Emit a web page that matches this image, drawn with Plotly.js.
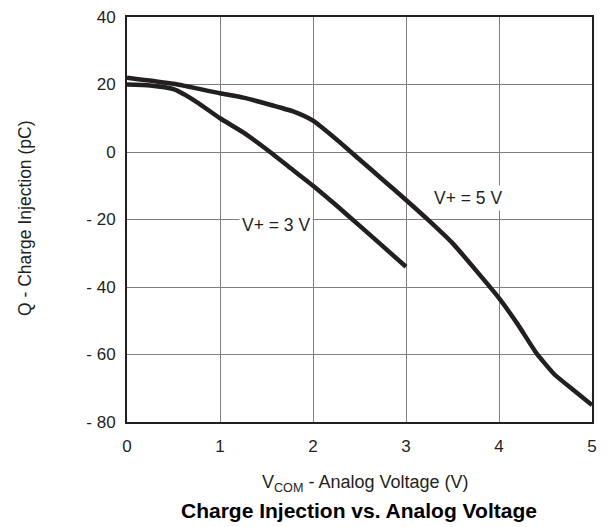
<!DOCTYPE html>
<html>
<head>
<meta charset="utf-8">
<script src="https://cdn.plot.ly/plotly-3.0.1.min.js"></script>
<style>html,body{margin:0;padding:0;background:#fff;}#chart{width:611px;height:527px;}</style>
</head>
<body>
<div id="chart"></div>
<script>
const v5_x = [0, 0.5, 1.0, 1.25, 1.5, 1.8, 2.0, 2.25, 2.5, 2.75, 3.0, 3.25, 3.5, 3.75, 4.0, 4.2, 4.4, 4.6, 4.8, 5.0];
const v5_y = [22, 20.2, 17.4, 16.1, 14.3, 11.9, 9.3, 3.8, -2.2, -8.2, -14.2, -20.4, -27, -35, -43.3, -51, -59.5, -66, -70.5, -75];
const v3_x = [0, 0.25, 0.5, 0.75, 1.0, 1.25, 1.5, 1.75, 2.0, 2.25, 2.5, 2.75, 3.0];
const v3_y = [20, 19.7, 18.6, 14.8, 10, 5.8, 0.8, -4.6, -10, -15.8, -21.8, -27.9, -34];
const xTicks = [0, 1, 2, 3, 4, 5];
const yTicks = [40, 20, 0, -20, -40, -60, -80];
const yTickText = ["40", "20", "0", "- 20", "- 40", "- 60", "- 80"];

const font = "Liberation Sans, Arial, Helvetica, sans-serif";
const ink = "#231f20";
const lineStyle = {color: ink, width: 4.5, shape: "spline", smoothing: 0.5};

const traces = [
  {x: v5_x, y: v5_y, mode: "lines", line: lineStyle, name: "V+ = 5 V", hoverinfo: "skip"},
  {x: v3_x, y: v3_y, mode: "lines", line: lineStyle, name: "V+ = 3 V", hoverinfo: "skip"}
];

const plotL = 127, plotW = 611 - 127 - 19, plotT = 17, plotH = 527 - 17 - 105;
function px(xp) { return (xp - plotL) / plotW; }
function py(yp) { return 1 - (yp - plotT) / plotH; }

const layout = {
  width: 611, height: 527,
  margin: {l: 127, r: 19, t: 17, b: 105, pad: 0},
  paper_bgcolor: "#fff", plot_bgcolor: "#fff",
  showlegend: false,
  font: {family: font, size: 16, color: ink},
  xaxis: {
    range: [0, 5], tickvals: xTicks, ticktext: xTicks.map(String),
    showgrid: true, gridcolor: "#7f7f7f", gridwidth: 1,
    zeroline: false, showline: true, linecolor: ink, linewidth: 2, mirror: true,
    ticks: "outside", ticklen: 8, tickcolor: "rgba(0,0,0,0)",
    tickfont: {family: font, size: 17, color: ink}, fixedrange: true
  },
  yaxis: {
    range: [-80, 40], tickvals: yTicks, ticktext: yTickText,
    showgrid: true, gridcolor: "#7f7f7f", gridwidth: 1,
    zeroline: false, showline: true, linecolor: ink, linewidth: 2, mirror: true,
    ticks: "outside", ticklen: 6, tickcolor: "rgba(0,0,0,0)",
    tickfont: {family: font, size: 17, color: ink}, fixedrange: true
  },
  annotations: [
    {text: "V+ = 5 V", x: 3.67, y: -13.6, xref: "x", yref: "y", showarrow: false,
     bgcolor: "#fff", borderpad: 2, font: {family: font, size: 17.5, color: ink}},
    {text: "V+ = 3 V", x: 1.60, y: -21.6, xref: "x", yref: "y", showarrow: false,
     bgcolor: "#fff", borderpad: 2, font: {family: font, size: 17.5, color: ink}},
    {text: "V<sub>COM</sub> - Analog Voltage (V)", xref: "paper", yref: "paper",
     x: px(365), y: py(483), xanchor: "center", yanchor: "middle",
     showarrow: false, font: {family: font, size: 18, color: ink}},
    {text: "<b>Charge Injection vs. Analog Voltage</b>", xref: "paper", yref: "paper",
     x: px(359), y: py(511), xanchor: "center", yanchor: "middle",
     showarrow: false, font: {family: font, size: 21, color: "#000"}},
    {text: "Q - Charge Injection (pC)", xref: "paper", yref: "paper",
     x: px(25), y: py(218), xanchor: "center", yanchor: "middle",
     showarrow: false, textangle: -90, font: {family: font, size: 17.5, color: ink}}
  ]
};

Plotly.newPlot("chart", traces, layout, {displayModeBar: false, staticPlot: true});
</script>
</body>
</html>
